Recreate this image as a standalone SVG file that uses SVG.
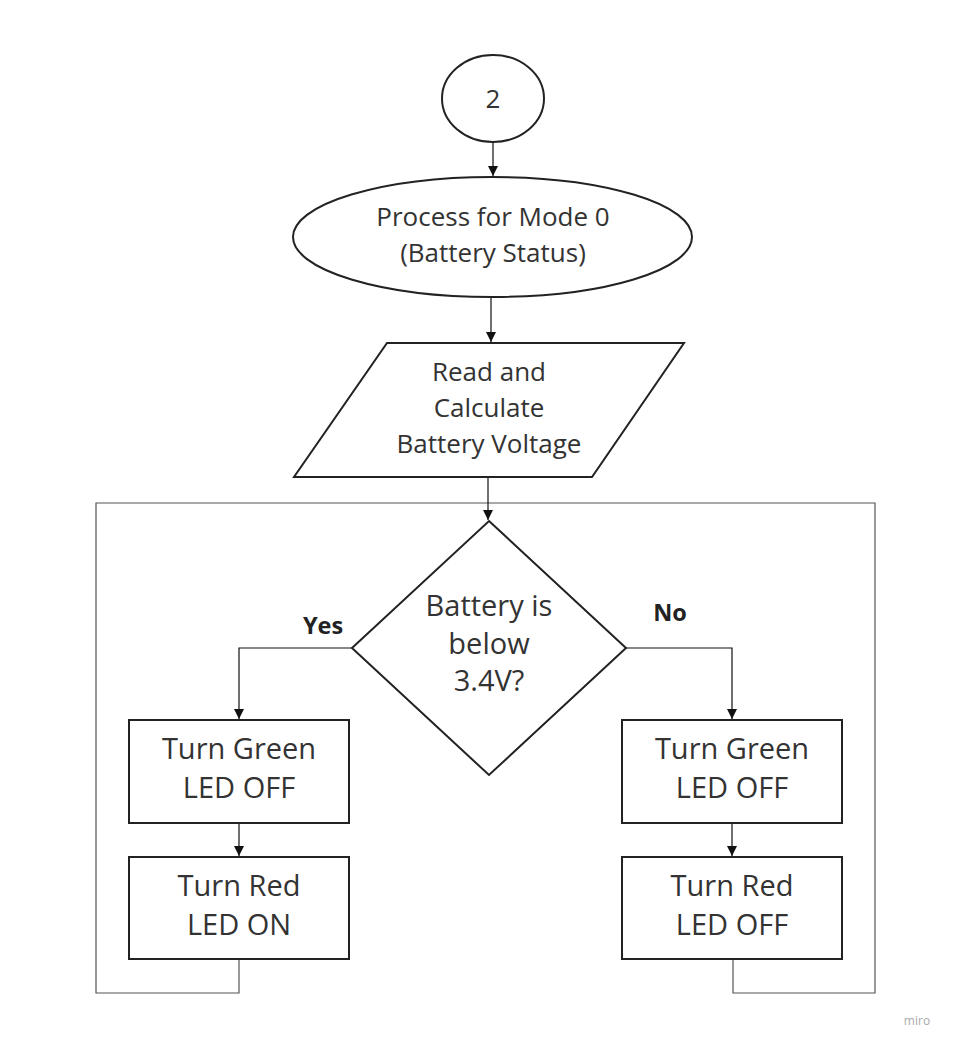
<svg xmlns="http://www.w3.org/2000/svg" width="954" height="1047" viewBox="0 0 954 1047">
<defs>
<marker id="arr" viewBox="0 0 10 16" refX="10" refY="8" markerWidth="10" markerHeight="16" markerUnits="userSpaceOnUse" orient="auto">
<path d="M0,3 L10,8 L0,13 Z" fill="#111"/>
</marker>
</defs>
<style>
.shape{fill:#fff;stroke:#222;stroke-width:2}
.t{font-family:"Open Sans","Liberation Sans",sans-serif;fill:#333;text-anchor:middle}
.t24{font-size:26px}
.t26{font-size:29px}
.lbl{font-family:"Open Sans","Liberation Sans",sans-serif;font-size:23.5px;font-weight:bold;fill:#222;text-anchor:middle}
.c{fill:none;stroke:#111;stroke-width:1.2}
.loop{fill:none;stroke:#555;stroke-width:1.2}
</style>
<rect width="954" height="1047" fill="#fff"/>
<g id="connectors">
<path class="loop" d="M239,959 V993 H96 V503 H488"/>
<path class="loop" d="M733,959 V993 H875 V503 H488"/>
<line class="c" x1="493" y1="142" x2="493" y2="176" marker-end="url(#arr)"/>
<line class="c" x1="491" y1="297" x2="491" y2="342" marker-end="url(#arr)"/>
<line class="c" x1="488" y1="477" x2="488" y2="520" marker-end="url(#arr)"/>
<path class="c" d="M352,648 H239 V719" marker-end="url(#arr)"/>
<path class="c" d="M626,648 H732 V719" marker-end="url(#arr)"/>
<line class="c" x1="239" y1="823" x2="239" y2="856" marker-end="url(#arr)"/>
<line class="c" x1="732" y1="823" x2="732" y2="856" marker-end="url(#arr)"/>
<text class="lbl" x="323" y="634">Yes</text>
<text class="lbl" x="670" y="621">No</text>
</g>
<g id="n-connector">
<ellipse class="shape" cx="493" cy="98.5" rx="51" ry="43.5"/>
<text class="t t24" x="493" y="108">2</text>
</g>
<g id="n-process">
<ellipse class="shape" cx="492.5" cy="237" rx="199.5" ry="60"/>
<text class="t t24" x="493" y="226">Process for Mode 0</text>
<text class="t t24" x="493" y="262">(Battery Status)</text>
</g>
<g id="n-read">
<polygon class="shape" points="387,343 684,343 592,477 294,477"/>
<text class="t t24" x="489" y="381">Read and</text>
<text class="t t24" x="489" y="417">Calculate</text>
<text class="t t24" x="489" y="453">Battery Voltage</text>
</g>
<g id="n-decision">
<polygon class="shape" points="489,521 626,648 489,775 352,648"/>
<text class="t t26" x="489" y="616">Battery is</text>
<text class="t t26" x="489" y="654">below</text>
<text class="t t26" x="489" y="691">3.4V?</text>
</g>
<g id="n-yes-green">
<rect class="shape" x="129" y="720" width="220" height="103"/>
<text class="t t26" x="239" y="759">Turn Green</text>
<text class="t t26" x="239" y="798">LED OFF</text>
</g>
<g id="n-yes-red">
<rect class="shape" x="129" y="857" width="220" height="102"/>
<text class="t t26" x="239" y="896">Turn Red</text>
<text class="t t26" x="239" y="935">LED ON</text>
</g>
<g id="n-no-green">
<rect class="shape" x="622" y="720" width="220" height="103"/>
<text class="t t26" x="732" y="759">Turn Green</text>
<text class="t t26" x="732" y="798">LED OFF</text>
</g>
<g id="n-no-red">
<rect class="shape" x="622" y="857" width="220" height="102"/>
<text class="t t26" x="732" y="896">Turn Red</text>
<text class="t t26" x="732" y="935">LED OFF</text>
</g>
<text x="917" y="1025" style="font-family:'Open Sans','Liberation Sans',sans-serif;font-size:12px;fill:#aaa;text-anchor:middle">miro</text>
</svg>
